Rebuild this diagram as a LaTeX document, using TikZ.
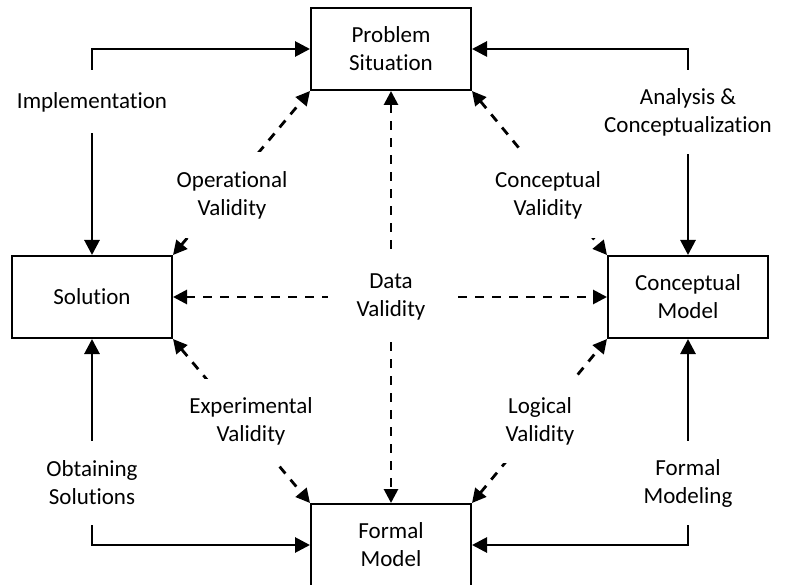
\documentclass[tikz,border=0pt]{standalone}
\usepackage{fontspec}
\setmainfont{Carlito}[Ligatures=NoCommon]
\usetikzlibrary{arrows.meta}
\newcommand{\lblfont}{\fontsize{23}{28}\selectfont}
\begin{document}
\begin{tikzpicture}[x=1pt,y=-1pt,
  box/.style={draw, line width=2pt, minimum width=160pt, minimum height=82pt, align=center, font=\lblfont, inner sep=0pt},
  solidarr/.style={line width=2.8pt, {Triangle[length=15pt,width=15pt]}-{Triangle[length=15pt,width=15pt]}},
  dasharr/.style={line width=2.8pt, dash pattern=on 9pt off 8pt, {Triangle[length=14pt,width=14pt]}-{Triangle[length=14pt,width=14pt]}},
  lbl/.style={fill=white, align=center, font=\lblfont, inner xsep=8pt, inner ysep=0pt, minimum height=84pt}]
\useasboundingbox[fill=white] (0,0) rectangle (787,585);
% boxes
\node[box] (ps)  at (391,49)  {Problem\\Situation};
\node[box] (sol) at (92,297)  {Solution};
\node[box] (cm)  at (688,297) {Conceptual\\Model};
\node[box] (fm)  at (391,545) {Formal\\Model};
% solid connectors
\draw[solidarr] (sol.north) |- (ps.west);
\draw[solidarr] (cm.north) |- (ps.east);
\draw[solidarr] (cm.south) |- (fm.east);
\draw[solidarr] (sol.south) |- (fm.west);
% dashed connectors
\draw[dasharr] (sol.north east) -- (ps.south west);
\draw[dasharr] (ps.south east) -- (cm.north west);
\draw[dasharr] (sol.south east) -- (fm.north west);
\draw[dasharr] (fm.north east) -- (cm.south west);
\draw[dasharr] (ps.south) -- (fm.north);
\draw[dasharr] (sol.east) -- (cm.west);
% labels
\node[lbl, minimum height=63pt] (limp) at (92,102) {Implementation};
\node[lbl] (lana) at (688,112) {Analysis \&\\Conceptualization};
\node[lbl] (lfmod) at (688,483) {Formal\\Modeling};
\node[lbl] (lobt) at (92,483) {Obtaining\\Solutions};
\node[lbl, minimum height=86pt] (lop) at (232,195) {Operational\\Validity};
\node[lbl, minimum height=86pt] (lcv) at (548,195) {Conceptual\\Validity};
\node[lbl] (lexp) at (251,421) {Experimental\\Validity};
\node[lbl] (llog) at (540,421) {Logical\\Validity};
\node[lbl, minimum width=126pt, minimum height=80pt] (ldata) at (391,297) {Data\\Validity};
\end{tikzpicture}
\end{document}
